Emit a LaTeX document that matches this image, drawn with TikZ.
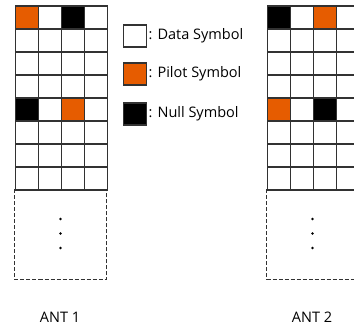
\documentclass[tikz,border=0pt]{standalone}
\usepackage{fontspec}
\setmainfont{Open Sans}
\definecolor{pilot}{RGB}{230,92,0}
\definecolor{gridline}{RGB}{50,50,50}
\begin{document}
\begin{tikzpicture}[x=1pt,y=-1pt,
  cell/.style={draw=gridline,line width=1.4pt,minimum width=23pt,minimum height=23pt,inner sep=0pt,anchor=north west},
  datacell/.style={cell,fill=white},
  pilotcell/.style={cell,fill=pilot},
  nullcell/.style={cell,fill=black},
  restbox/.style={draw=gridline,line width=1.3pt,dash pattern=on 4pt off 2pt},
  dotmark/.style={circle,fill=black,inner sep=0pt,minimum size=2.6pt},
  lbl/.style={font=\fontsize{14.5}{17}\selectfont,inner sep=0pt},
  legbox/.style={draw=gridline,line width=1.3pt,minimum width=23pt,minimum height=22pt,inner sep=0pt,anchor=north west}]
\useasboundingbox (0,0) rectangle (354,328);

% symbol grids for both antennas: 4 subcarriers x 8 symbols
\foreach \a/\x in {1/14.5,2/266.5}{
  \foreach \r in {0,...,7}{
    \foreach \c in {0,...,3}{
      \node[datacell] (g\a-\r-\c) at (\x+23*\c,5.5+23*\r) {};
    }
  }
}
% pilot and null positions, ANT 1
\node[pilotcell] (p1a) at (14.5,5.5) {};
\node[nullcell]  (n1a) at (60.5,5.5) {};
\node[nullcell]  (n1b) at (14.5,97.5) {};
\node[pilotcell] (p1b) at (60.5,97.5) {};
% pilot and null positions, ANT 2
\node[nullcell]  (n2a) at (266.5,5.5) {};
\node[pilotcell] (p2a) at (312.5,5.5) {};
\node[pilotcell] (p2b) at (266.5,97.5) {};
\node[nullcell]  (n2b) at (312.5,97.5) {};

% remaining symbols (dashed continuation)
\draw[restbox] (14.5,189.5) rectangle (106.5,279.5);
\draw[restbox] (266.5,189.5) rectangle (358.5,279.5);
\foreach \a/\x in {1/60.5,2/312.5}{
  \node[dotmark] (d\a-1) at (\x,219) {};
  \node[dotmark] (d\a-2) at (\x,233.5) {};
  \node[dotmark] (d\a-3) at (\x,248) {};
}

% antenna labels
\node[lbl] (ant1) at (60,317) {ANT 1};
\node[lbl] (ant2) at (312,317) {ANT 2};

% legend
\node[legbox,fill=white] (ldata) at (122.5,24.5) {};
\node[legbox,fill=pilot] (lpilot) at (122.5,62.5) {};
\node[legbox,fill=black] (lnull) at (122.5,102.5) {};
\node[lbl,anchor=west] (tdata) at (148.5,35.5) {: Data Symbol};
\node[lbl,anchor=west] (tpilot) at (148.5,73.5) {: Pilot Symbol};
\node[lbl,anchor=west] (tnull) at (148.5,113.5) {: Null Symbol};
\end{tikzpicture}
\end{document}
